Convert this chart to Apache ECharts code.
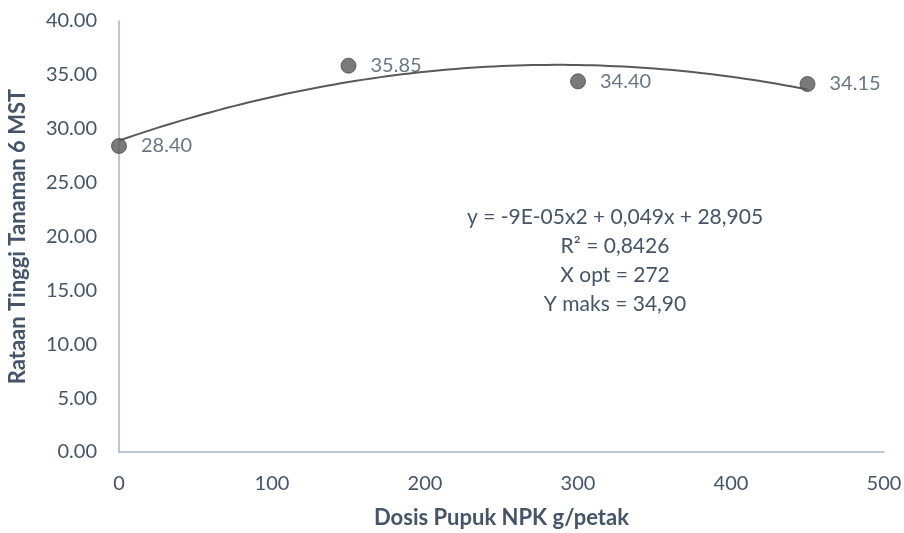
<!DOCTYPE html>
<html>
<head>
<meta charset="utf-8">
<script src="https://cdn.jsdelivr.net/npm/echarts@6/dist/echarts.min.js"></script>
<style>
  html, body { margin: 0; padding: 0; background: #fff; }
  #chart { width: 904px; height: 533px; }
</style>
</head>
<body>
<div id="chart"></div>
<script>
// NPK dose (g/petak) and mean plant height at 6 MST
const doses = [0, 150, 300, 450];
const heights = [28.40, 35.85, 34.40, 34.15];
const xTicks = [0, 100, 200, 300, 400, 500];
const yTicks = [0, 5, 10, 15, 20, 25, 30, 35, 40];
const equationLines = [
  'y = -9E-05x2 + 0,049x + 28,905',
  'R² = 0,8426',
  'X opt = 272',
  'Y maks = 34,90'
];

// Least-squares quadratic fit of the observations (polynomial trendline)
function quadFit(xs, ys) {
  let S = [0, 0, 0, 0, 0], T = [0, 0, 0];
  for (let i = 0; i < xs.length; i++) {
    let p = 1;
    for (let k = 0; k < 5; k++) { S[k] += p; if (k < 3) T[k] += p * ys[i]; p *= xs[i]; }
  }
  const A = [[S[0], S[1], S[2], T[0]], [S[1], S[2], S[3], T[1]], [S[2], S[3], S[4], T[2]]];
  for (let c = 0; c < 3; c++) {
    for (let r = c + 1; r < 3; r++) {
      const f = A[r][c] / A[c][c];
      for (let k = c; k < 4; k++) A[r][k] -= f * A[c][k];
    }
  }
  const coef = [0, 0, 0];
  for (let r = 2; r >= 0; r--) {
    let s = A[r][3];
    for (let k = r + 1; k < 3; k++) s -= A[r][k] * coef[k];
    coef[r] = s / A[r][r];
  }
  return coef; // c0 + c1 x + c2 x^2
}
const fit = quadFit(doses, heights);
const trend = [];
for (let x = doses[0]; x <= doses[doses.length - 1]; x += 5) {
  trend.push([x, fit[0] + fit[1] * x + fit[2] * x * x]);
}

const FONT = 'Lato';
const TXT = '#44546A';
const AXIS = '#A6B4C9';

const chart = echarts.init(document.getElementById('chart'));
chart.setOption({
  animation: false,
  textStyle: { fontFamily: FONT },
  grid: { left: 119, right: 20, top: 21, bottom: 81, outerBoundsMode: 'none', containLabel: false },
  xAxis: {
    type: 'value', min: xTicks[0], max: xTicks[xTicks.length - 1], interval: 100,
    name: 'Dosis Pupuk NPK g/petak', nameLocation: 'middle', nameGap: 55,
    nameTextStyle: { fontFamily: FONT, fontSize: 22, fontWeight: 'bold', color: TXT },
    axisLine: { show: true, lineStyle: { color: AXIS, width: 1.5 } },
    axisTick: { show: false }, splitLine: { show: false },
    axisLabel: { fontFamily: FONT, fontSize: 20, color: TXT, margin: 22 }
  },
  yAxis: {
    type: 'value', min: yTicks[0], max: yTicks[yTicks.length - 1], interval: 5,
    name: 'Rataan Tinggi Tanaman 6 MST', nameLocation: 'middle', nameGap: 90,
    nameTextStyle: { fontFamily: FONT, fontSize: 22, fontWeight: 'bold', color: TXT },
    axisLine: { show: true, lineStyle: { color: AXIS, width: 1.5 } },
    axisTick: { show: false }, splitLine: { show: false },
    axisLabel: { fontFamily: FONT, fontSize: 20, color: TXT, margin: 22,
      formatter: v => v.toFixed(2) }
  },
  series: [
    {
      type: 'line', data: trend, showSymbol: false, smooth: false,
      lineStyle: { color: '#595959', width: 2 }, z: 3, silent: true
    },
    {
      type: 'scatter', data: doses.map((d, i) => [d, heights[i]]),
      symbolSize: 15, itemStyle: { color: '#595959', borderColor: '#4a4a4a', borderWidth: 1 },
      z: 4,
      label: {
        show: true, position: 'right', distance: 14,
        fontFamily: FONT, fontSize: 20, color: TXT,
        formatter: p => p.value[1].toFixed(2)
      }
    }
  ],
  graphic: [{
    type: 'text', x: 615, y: 203, z: 10,
    style: {
      text: equationLines.join('\n'), x: 0, y: 0,
      textAlign: 'center', textVerticalAlign: 'top',
      fontFamily: FONT, fontSize: 21, lineHeight: 29, fill: TXT
    }
  }]
});
</script>
</body>
</html>
